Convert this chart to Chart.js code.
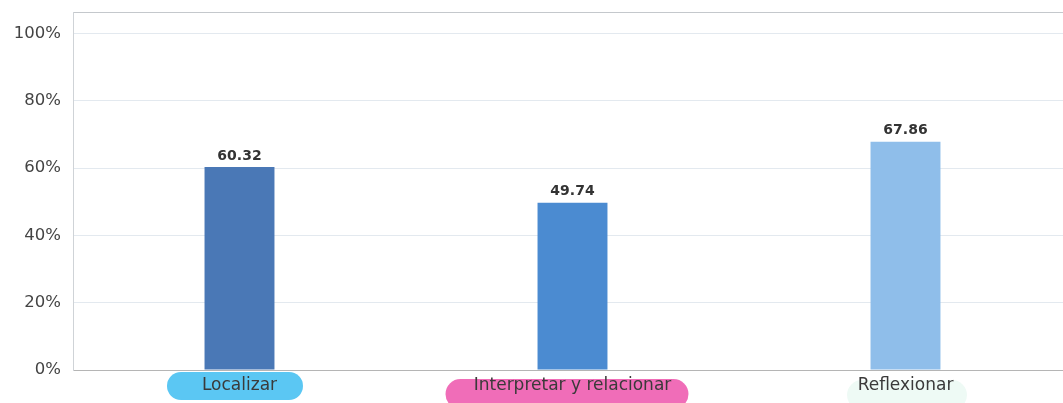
<!DOCTYPE html>
<html>
<head>
<meta charset="utf-8">
<script src="https://cdn.jsdelivr.net/npm/chart.js@4/dist/chart.umd.min.js"></script>
<style>
  html, body { margin: 0; padding: 0; background: #fff; overflow: hidden; }
  #wrap { width: 1072px; height: 403px; position: relative; }
</style>
</head>
<body>
<div id="wrap"><canvas id="myChart"></canvas></div>
<script>
// datos
const categorias = ["Localizar", "Interpretar y relacionar", "Reflexionar"];
const valores = [60.32, 49.74, 67.86];
const ticksY = [0, 20, 40, 60, 80, 100];

// estilos
const coloresBarra = ["#4a78b6", "#4b8bd1", "#8fbeea"];
const coloresPastilla = ["#5bc7f3", "#f06db8", "#eefaf5"];
const pastillas = [
  { dx: -4.5, ancho: 136, top: 372, alto: 28 },
  { dx: -5.5, ancho: 243, top: 379, alto: 30 },
  { dx: 1.5, ancho: 120, top: 380, alto: 30 },
];
const MAX_Y = 106.4;

const pastillaPlugin = {
  id: "pastillas",
  beforeDraw(chart) {
    const ctx = chart.ctx;
    const x = chart.scales.x;
    ctx.save();
    pastillas.forEach((p, i) => {
      const cx = x.getPixelForTick(i) + p.dx;
      const left = cx - p.ancho / 2;
      const r = p.alto / 2;
      ctx.fillStyle = coloresPastilla[i];
      ctx.beginPath();
      ctx.roundRect(left, p.top, p.ancho, p.alto, r);
      ctx.fill();
    });
    ctx.restore();
  },
};

const etiquetasPlugin = {
  id: "etiquetas",
  afterDatasetsDraw(chart) {
    const ctx = chart.ctx;
    const meta = chart.getDatasetMeta(0);
    ctx.save();
    ctx.font = "bold 14px 'DejaVu Sans'";
    ctx.fillStyle = "#333";
    ctx.textAlign = "center";
    ctx.textBaseline = "bottom";
    meta.data.forEach((bar, i) => {
      ctx.fillText(valores[i].toFixed(2), bar.x, bar.y - 4);
    });
    ctx.restore();
  },
};

const config = {
  type: "bar",
  data: {
    labels: categorias,
    datasets: [
      {
        data: valores,
        backgroundColor: coloresBarra,
        borderWidth: 0,
        barPercentage: 0.21,
        categoryPercentage: 1,
      },
    ],
  },
  options: {
    responsive: true,
    maintainAspectRatio: false,
    animation: false,
    layout: { padding: { top: 12, right: 0, left: 0, bottom: 0 } },
    plugins: { legend: { display: false }, tooltip: { enabled: false } },
    scales: {
      x: {
        grid: { display: false, drawTicks: false },
        border: { display: true, color: "#b5b5b5", width: 1 },
        ticks: {
          padding: 5,
          color: "#3a3a3a",
          font: { family: "'DejaVu Sans'", size: 17 },
          maxRotation: 0,
        },
        afterFit(scale) {
          scale.height = 33;
          scale.paddingLeft = 0;
          scale.paddingRight = 0;
        },
      },
      y: {
        min: 0,
        max: MAX_Y,
        afterBuildTicks(scale) {
          scale.ticks = ticksY.map((v) => ({ value: v })).concat([{ value: MAX_Y }]);
        },
        grid: {
          drawTicks: false,
          color: (c) => (c.tick && c.tick.value === MAX_Y ? "#c4c8cc" : "#e3e9ef"),
          lineWidth: 1,
        },
        border: { display: true, color: "#cfd3d7", width: 1 },
        ticks: {
          padding: 12,
          color: "#444",
          font: { family: "'DejaVu Sans'", size: 16.5 },
          callback: (v) => (ticksY.includes(v) ? v + "%" : ""),
        },
        afterFit(scale) {
          scale.width = 73;
          scale.paddingTop = 0;
          scale.paddingBottom = 0;
        },
      },
    },
  },
  plugins: [pastillaPlugin, etiquetasPlugin],
};

const myChart = new Chart(document.getElementById("myChart"), config);
</script>
</body>
</html>
